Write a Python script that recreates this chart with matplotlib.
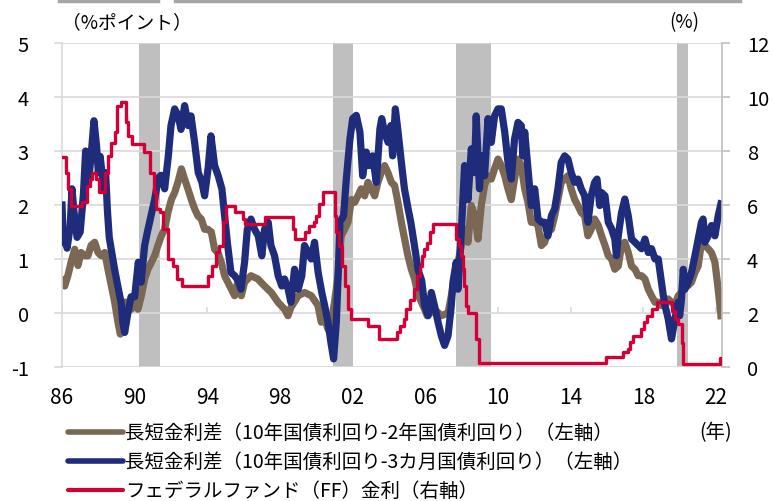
import matplotlib
matplotlib.use("Agg")
import matplotlib.pyplot as plt
from matplotlib.lines import Line2D

plt.rcParams['font.family'] = ['Noto Sans CJK JP', 'DejaVu Sans']
plt.rcParams['axes.unicode_minus'] = False

# 10y - 2y spread (left axis, %pt)
s2_year = [1986.0, 1986.15, 1986.33, 1986.5, 1986.7, 1986.88, 1987.05, 1987.25, 1987.43, 1987.6,
           1987.8, 1987.98, 1988.16, 1988.35, 1988.53, 1988.72, 1988.9, 1989.08, 1989.21, 1989.36,
           1989.45, 1989.63, 1989.82, 1990.0, 1990.18, 1990.37, 1990.55, 1990.73, 1990.92, 1991.1,
           1991.28, 1991.47, 1991.65, 1991.83, 1992.02, 1992.2, 1992.38, 1992.57, 1992.75, 1992.93,
           1993.12, 1993.3, 1993.48, 1993.67, 1993.85, 1994.03, 1994.22, 1994.4, 1994.58, 1994.77,
           1994.95, 1995.13, 1995.32, 1995.5, 1995.69, 1995.87, 1996.05, 1996.4, 1996.78, 1997.15,
           1997.52, 1997.89, 1998.25, 1998.44, 1998.6, 1999.0, 1999.35, 1999.72, 2000.09, 2000.27,
           2000.46, 2000.64, 2000.82, 2001.0, 2001.19, 2001.37, 2001.56, 2001.74, 2001.93, 2002.11,
           2002.29, 2002.47, 2002.66, 2002.84, 2003.02, 2003.21, 2003.39, 2003.57, 2003.76, 2003.94,
           2004.13, 2004.31, 2004.49, 2004.68, 2004.86, 2005.04, 2005.23, 2005.41, 2005.59, 2005.96,
           2006.1, 2006.5, 2006.88, 2007.25, 2007.43, 2007.61, 2007.8, 2007.98, 2008.16, 2008.35,
           2008.53, 2008.72, 2008.9, 2009.08, 2009.26, 2009.45, 2009.63, 2009.81, 2010.0, 2010.18,
           2010.37, 2010.55, 2010.73, 2010.91, 2011.1, 2011.28, 2011.47, 2011.65, 2011.83, 2012.02,
           2012.2, 2012.39, 2012.57, 2012.75, 2012.94, 2013.12, 2013.3, 2013.48, 2013.67, 2013.85,
           2014.03, 2014.22, 2014.4, 2014.58, 2014.77, 2014.95, 2015.13, 2015.32, 2015.52, 2015.7,
           2015.89, 2016.07, 2016.25, 2016.43, 2016.62, 2016.8, 2016.98, 2017.17, 2017.35, 2017.54,
           2017.72, 2017.9, 2018.09, 2018.27, 2018.45, 2018.64, 2018.82, 2019.0, 2019.19, 2019.37,
           2019.55, 2019.74, 2019.92, 2020.1, 2020.29, 2020.47, 2020.65, 2020.84, 2021.02, 2021.2,
           2021.39, 2021.57, 2021.75, 2021.94, 2022.12, 2022.27]
s2_val = [0.6, 0.5, 0.7, 0.94, 1.18, 0.88, 1.12, 1.06, 1.06, 1.25,
          1.31, 1.12, 1.06, 1.12, 0.81, 0.5, 0.2, -0.17, -0.39, -0.1,
          0.2, 0.2, 0.07, 0.2, 0.07, 0.32, 0.63, 0.81, 0.94, 1.06,
          1.25, 1.43, 1.55, 1.86, 2.1, 2.23, 2.42, 2.67, 2.48, 2.3,
          2.1, 1.93, 1.8, 1.74, 1.55, 1.55, 1.5, 1.18, 1.12, 0.94,
          0.69, 0.57, 0.44, 0.32, 0.6, 0.32, 0.57, 0.69, 0.63, 0.5,
          0.38, 0.2, 0.07, -0.05, 0.1, 0.32, 0.38, 0.32, 0.14, -0.17,
          -0.1, -0.3, -0.17, 0.2, 0.69, 1.43, 1.55, 1.68, 2.1, 2.05,
          2.17, 2.3, 2.17, 2.42, 2.3, 2.17, 2.42, 2.6, 2.73, 2.6,
          2.42, 2.36, 2.05, 1.68, 1.37, 1.06, 0.81, 0.63, 0.35, 0.07,
          -0.05, 0.07, -0.05, 0.0, 0.32, 0.69, 0.94, 1.25, 1.55, 1.31,
          1.99, 1.8, 1.37, 1.99, 2.36, 2.54, 2.48, 2.67, 2.85, 2.73,
          2.54, 2.3, 2.1, 2.48, 2.85, 2.73, 2.3, 2.05, 1.68, 1.68,
          1.62, 1.25, 1.31, 1.5, 1.55, 1.8, 2.1, 2.42, 2.48, 2.54,
          2.3, 2.1, 1.99, 1.86, 1.8, 1.43, 1.55, 1.74, 1.62, 1.43,
          1.25, 1.06, 1.0, 0.81, 0.87, 1.25, 1.31, 1.12, 0.87, 0.81,
          0.69, 0.69, 0.63, 0.44, 0.32, 0.2, 0.2, 0.14, 0.14, 0.26,
          0.2, 0.14, 0.32, 0.38, 0.51, 0.51, 0.57, 0.75, 0.87, 1.31,
          1.25, 1.19, 1.12, 0.94, 0.44, -0.05]

# 10y - 3m spread (left axis, %pt)
s3_year = [1986.0, 1986.08, 1986.2, 1986.28, 1986.45, 1986.55, 1986.65, 1986.83, 1987.0, 1987.18,
           1987.3, 1987.45, 1987.6, 1987.76, 1987.9, 1988.0, 1988.1, 1988.3, 1988.4, 1988.5,
           1988.6, 1988.9, 1989.1, 1989.25, 1989.35, 1989.45, 1989.6, 1989.8, 1990.0, 1990.2,
           1990.35, 1990.55, 1990.7, 1990.9, 1991.1, 1991.3, 1991.45, 1991.65, 1991.85, 1992.0,
           1992.2, 1992.4, 1992.55, 1992.75, 1992.95, 1993.1, 1993.3, 1993.5, 1993.7, 1993.85,
           1994.05, 1994.2, 1994.4, 1994.6, 1994.8, 1994.95, 1995.1, 1995.3, 1995.5, 1995.7,
           1995.85, 1996.05, 1996.2, 1996.4, 1996.6, 1996.8, 1997.0, 1997.15, 1997.35, 1997.5,
           1997.7, 1997.9, 1998.1, 1998.25, 1998.45, 1998.6, 1998.8, 1999.0, 1999.2, 1999.35,
           1999.55, 1999.72, 1999.9, 2000.1, 2000.3, 2000.5, 2000.64, 2000.8, 2000.95, 2001.1,
           2001.2, 2001.3, 2001.5, 2001.65, 2001.85, 2002.0, 2002.2, 2002.4, 2002.55, 2002.75,
           2002.9, 2003.1, 2003.3, 2003.5, 2003.6, 2003.75, 2003.95, 2004.1, 2004.2, 2004.35,
           2004.5, 2004.7, 2004.85, 2005.05, 2005.2, 2005.4, 2005.6, 2005.8, 2005.96, 2006.15,
           2006.33, 2006.5, 2006.7, 2006.88, 2007.06, 2007.25, 2007.43, 2007.52, 2007.7, 2007.8,
           2007.98, 2008.16, 2008.35, 2008.53, 2008.7, 2008.8, 2008.98, 2009.08, 2009.26, 2009.45,
           2009.63, 2009.81, 2010.0, 2010.18, 2010.37, 2010.55, 2010.73, 2010.91, 2011.1, 2011.28,
           2011.37, 2011.47, 2011.65, 2011.83, 2012.02, 2012.2, 2012.39, 2012.57, 2012.75, 2012.94,
           2013.12, 2013.3, 2013.48, 2013.67, 2013.85, 2014.03, 2014.22, 2014.4, 2014.58, 2014.77,
           2014.95, 2015.13, 2015.32, 2015.45, 2015.6, 2015.7, 2015.89, 2016.07, 2016.25, 2016.43,
           2016.52, 2016.62, 2016.8, 2016.98, 2017.17, 2017.35, 2017.54, 2017.72, 2017.9, 2018.09,
           2018.27, 2018.45, 2018.64, 2018.82, 2019.0, 2019.1, 2019.19, 2019.37, 2019.55, 2019.74,
           2019.92, 2020.0, 2020.1, 2020.2, 2020.29, 2020.47, 2020.65, 2020.84, 2021.02, 2021.2,
           2021.29, 2021.39, 2021.57, 2021.75, 2021.94, 2022.12, 2022.27]
s3_val = [2.0, 1.3, 1.5, 1.2, 1.6, 2.3, 1.9, 1.4, 1.5, 2.2,
          3.0, 2.4, 2.9, 3.56, 3.1, 2.6, 2.9, 2.3, 2.6, 1.9,
          1.4, 0.8, 0.45, 0.2, -0.17, -0.36, -0.05, 0.3, 0.3, 0.94,
          0.57, 1.25, 1.5, 1.8, 2.1, 2.5, 2.55, 2.3, 2.9, 3.47,
          3.78, 3.65, 3.4, 3.84, 3.47, 3.65, 3.16, 2.6, 2.42, 2.17,
          2.7, 3.28, 2.73, 2.54, 2.3, 1.8, 1.31, 0.75, 0.69, 0.6,
          0.44, 0.94, 1.55, 1.74, 1.55, 1.43, 1.06, 1.55, 1.68, 1.25,
          1.06, 0.69, 0.5, 0.63, 0.44, 0.2, 0.81, 0.44, 0.69, 1.25,
          1.12, 1.0, 1.31, 0.75, 0.38, 0.07, -0.17, -0.54, -0.85, -0.17,
          0.69, 1.68, 1.8, 2.48, 3.22, 3.6, 3.66, 3.35, 2.54, 2.98,
          2.73, 2.91, 2.42, 3.41, 3.6, 3.35, 3.16, 3.47, 2.91, 3.78,
          3.35, 2.73, 2.3, 1.93, 1.68, 1.25, 0.8, 0.6, 0.14, -0.05,
          0.38, 0.14, -0.17, -0.42, -0.6, -0.42, 0.14, 0.57, 0.94, 0.44,
          1.5, 2.73, 2.1, 3.04, 2.6, 3.65, 2.3, 2.91, 2.54, 3.6,
          3.16, 3.65, 3.78, 3.78, 3.35, 2.79, 2.48, 3.22, 3.53, 3.47,
          2.91, 3.35, 2.67, 1.99, 2.3, 1.74, 1.68, 1.68, 1.43, 1.8,
          1.93, 2.3, 2.79, 2.91, 2.85, 2.6, 2.42, 2.48, 2.3, 2.17,
          1.68, 2.17, 2.42, 2.48, 1.99, 2.23, 2.17, 1.68, 1.56, 1.37,
          1.06, 1.43, 1.86, 2.11, 1.8, 1.37, 1.31, 1.25, 1.19, 1.37,
          1.12, 1.19, 1.0, 1.0, 0.57, 0.32, 0.14, -0.11, -0.48, -0.11,
          0.2, -0.05, 0.26, 0.81, 0.44, 0.57, 0.75, 1.06, 1.37, 1.68,
          1.74, 1.31, 1.43, 1.62, 1.43, 1.8, 2.02]

# federal funds rate (right axis, %), change points
ff_year = [1986.0, 1986.2, 1986.35, 1986.5, 1987.1, 1987.35, 1987.55, 1987.65, 1987.85, 1988.05,
           1988.35, 1988.55, 1988.7, 1988.9, 1989.05, 1989.25, 1989.5, 1989.65, 1989.85, 1990.5,
           1990.85, 1991.05, 1991.2, 1991.4, 1991.55, 1991.85, 1992.1, 1992.35, 1992.6, 1994.05,
           1994.25, 1994.45, 1994.65, 1994.85, 1995.05, 1995.5, 1995.95, 1996.05, 1997.15, 1998.7,
           1998.85, 1999.4, 1999.6, 1999.85, 2000.0, 2000.15, 2000.35, 2001.0, 2001.1, 2001.25,
           2001.4, 2001.6, 2001.75, 2001.9, 2002.85, 2003.45, 2004.45, 2004.6, 2004.8, 2004.95,
           2005.15, 2005.35, 2005.55, 2005.7, 2005.8, 2005.95, 2006.1, 2006.25, 2006.4, 2007.7,
           2007.85, 2007.95, 2008.05, 2008.12, 2008.25, 2008.33, 2008.8, 2008.95, 2015.95, 2016.9,
           2017.15, 2017.25, 2017.45, 2017.85, 2018.05, 2018.2, 2018.5, 2018.75, 2019.6, 2019.75,
           2019.9, 2020.12, 2020.2, 2022.2, 2022.3]
ff_val = [7.77, 7.2, 6.6, 5.98, 6.1, 6.7, 6.96, 7.2, 6.96, 6.47,
          7.2, 7.8, 8.3, 8.7, 9.68, 9.8, 9.06, 8.57, 8.26, 7.95,
          7.2, 6.47, 5.85, 5.73, 5.1, 4.0, 3.75, 3.26, 3.0, 3.38,
          3.75, 4.25, 4.5, 5.36, 5.98, 5.73, 5.5, 5.3, 5.54, 5.1,
          4.74, 5.0, 5.23, 5.36, 5.6, 6.04, 6.47, 5.6, 5.0, 4.5,
          3.75, 3.0, 2.14, 1.78, 1.53, 1.04, 1.28, 1.53, 1.78, 2.14,
          2.5, 2.9, 3.38, 3.75, 4.12, 4.37, 4.6, 5.0, 5.3, 4.74,
          4.5, 4.12, 3.63, 3.0, 2.27, 2.0, 1.04, 0.15, 0.36, 0.54,
          0.67, 0.91, 1.16, 1.41, 1.65, 1.9, 2.15, 2.4, 2.09, 1.78,
          1.6, 0.9, 0.12, 0.33, 0.33]

recessions = [(1990.25, 1991.4), (2000.92, 2002.02), (2007.68, 2009.61), (2019.85, 2020.45)]

tick_years = list(range(1986, 2023, 4))
tick_labels = ['86', '90', '94', '98', '02', '06', '10', '14', '18', '22']

legend_labels = ['長短金利差（10年国債利回り-2年国債利回り）（左軸）',
                 '長短金利差（10年国債利回り-3カ月国債利回り）（左軸）',
                 'フェデラルファンド（FF）金利（右軸）']

c_brown = '#7a6854'
c_blue = '#1f2c7c'
c_red = '#d20037'
grid_c = '#d9d9d9'

W, H = 773, 502
fig = plt.figure(figsize=(W / 100, H / 100), dpi=100)
ax = fig.add_axes([62 / W, 1 - 368 / H, (722 - 62) / W, (368 - 44) / H])
ax2 = ax.twinx()

for a, b in recessions:
    ax.axvspan(a, b, color='#bfbfbf', lw=0, zorder=0)

ax.set_xlim(1986.0, 2022.33)
ax.set_ylim(-1, 5)
ax.set_yticks(range(-1, 6))
ax.grid(axis='y', color=grid_c, lw=1.2, zorder=0.5)
ax.set_axisbelow(True)
ax.set_xticks(tick_years)
ax.set_xticklabels(tick_labels)
ax.tick_params(axis='x', length=0, pad=14, labelsize=15)
ax.tick_params(axis='y', length=6, width=1.2, color=grid_c, pad=18, labelsize=14.5)
ax.vlines(tick_years, 0, 0.12, color=grid_c, lw=1.2, zorder=0.6)

for side in ['top', 'bottom']:
    ax.spines[side].set_visible(False)
    ax2.spines[side].set_visible(False)
ax.spines['left'].set_color(grid_c)
ax.spines['left'].set_linewidth(1.2)
ax.spines['right'].set_visible(False)
ax2.spines['left'].set_visible(False)
ax2.spines['right'].set_color('#bfbfbf')
ax2.spines['right'].set_linewidth(1.2)

ax.plot(s2_year, s2_val, color=c_brown, lw=5.2, solid_joinstyle='round', zorder=2)
ax.plot(s3_year, s3_val, color=c_blue, lw=5.2, solid_joinstyle='round', zorder=3)

ax2.plot(ff_year, ff_val, color=c_red, lw=2.4, drawstyle='steps-post', zorder=4)
ax2.set_ylim(0, 12)
ax2.set_yticks(range(0, 13, 2))
ax2.tick_params(axis='y', length=6, width=1.2, color='#bfbfbf', pad=12, labelsize=14.5)

fig.text(62 / W, 1 - 23 / H, '（%ポイント）', fontsize=13.5, va='center', ha='left')
fig.text(669 / W, 1 - 23 / H, '(%)', fontsize=13.5, va='center', ha='left')
fig.text(716 / W, 1 - 433 / H, '(年)', fontsize=14, va='center', ha='center')

# top decoration bars
fig.add_artist(Line2D([59 / W, 158 / W], [1 - 1.5 / H] * 2, color='#a6a6a6', lw=2.5))
fig.add_artist(Line2D([175 / W, 740 / W], [1 - 1.5 / H] * 2, color='#a6a6a6', lw=2.5))

# legend
for i, (lab, col) in enumerate(zip(legend_labels, [c_brown, c_blue, c_red])):
    y = 1 - (433 + 29 * i) / H
    fig.add_artist(Line2D([68 / W, 123 / W], [y, y], color=col, lw=4.0 if i < 2 else 3.0,
                          solid_capstyle='round'))
    fig.text(125 / W, y, lab, fontsize=14, va='center', ha='left')

fig.savefig('out.png', dpi=100)
